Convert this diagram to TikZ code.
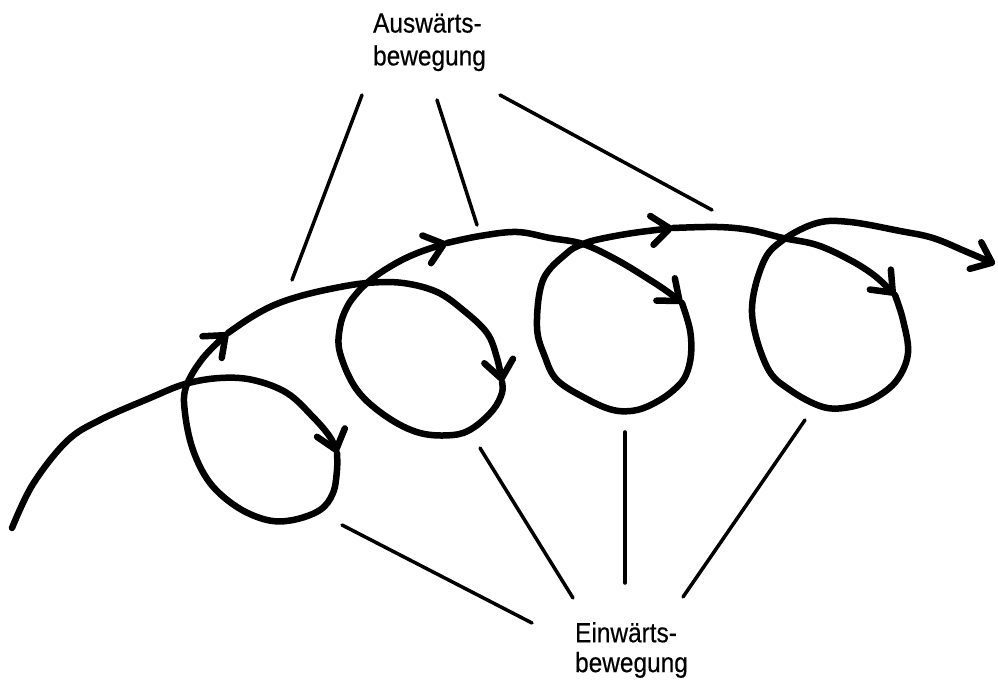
\documentclass[tikz,border=0pt]{standalone}
\usepackage{fontspec}
\setmainfont{Liberation Sans}
\newfontfamily\labelfont[FakeStretch=0.88, FakeBold=0.4]{Liberation Sans}
\usetikzlibrary{arrows.meta}

\begin{document}
\begin{tikzpicture}[x=0.02cm, y=-0.02cm,
  looppath/.style={line width=3.7pt, line cap=round, line join=round},
  loopseg/.style={looppath, -{Straight Barb[length=0.36cm, width=0.58cm, round]}},
  pointer/.style={line width=2pt, line cap=round},
  lbl/.style={inner sep=0pt, align=left, text=black}]

  % page frame
  \useasboundingbox (0,0) rectangle (998,685);

  % labels
  \node[lbl, font=\labelfont\fontsize{15.8pt}{18.7pt}\selectfont]
    (outward) at (429.5,42.3) {Auswärts-\\bewegung};
  \node[lbl, font=\labelfont\fontsize{15.8pt}{17pt}\selectfont]
    (inward) at (631.5,650) {Einwärts-\\bewegung};

  % the looping path, one piece per arrow
  \draw[loopseg] plot[smooth, tension=0.6] coordinates {
    (12,528) (33,484) (67,441) (100,420) (150,398) (185,384) (220,378)
    (253,380) (287,393) (313,417) (330,437) (337,453)};
  \draw[loopseg] plot[smooth, tension=0.6] coordinates {
    (337,453) (337,470) (333,493) (320,510) (293,520) (267,520) (237,507)
    (210,483) (193,450) (185,413) (186,387) (203,358) (228,333)};
  \draw[loopseg] plot[smooth, tension=0.6] coordinates {
    (228,333) (250,318) (272,306) (297,297) (330,289) (367,283)
    (403,283) (437,292) (463,310) (487,333) (497,358) (502,382)};
  \draw[loopseg] plot[smooth, tension=0.6] coordinates {
    (502,382) (502,393) (493,410) (473,428) (453,435) (420,433) (387,417)
    (357,390) (340,353) (340,327) (347,307) (357,293) (367,283) (380,273)
    (400,261) (420,252) (447,243)};
  \draw[loopseg] plot[smooth, tension=0.6] coordinates {
    (447,243) (480,236) (517,232) (550,238) (583,244) (617,260) (650,280)
    (668,292) (682,303)};
  \draw[loopseg] plot[smooth, tension=0.6] coordinates {
    (682,303) (690,330) (691,355) (686,375) (677,387) (660,400) (637,410)
    (613,410) (585,398) (557,380) (545,357) (537,327) (543,280) (567,253)
    (583,244) (600,239) (633,233) (673,228)};
  \draw[loopseg] plot[smooth, tension=0.6] coordinates {
    (673,228) (717,227) (750,230) (783,238) (817,245) (850,260) (875,276)
    (895,295)};
  \draw[loopseg] plot[smooth, tension=0.6] coordinates {
    (895,295) (903,320) (908,353) (897,380) (875,398) (850,407) (823,407)
    (790,390) (767,367) (752,313) (763,263) (783,240) (817,223) (850,222)
    (900,231) (933,238) (967,252) (995,264)};

  % pointer ends
  \coordinate (o1a) at (362,95);  \coordinate (o1b) at (292,280);
  \coordinate (o2a) at (437,100); \coordinate (o2b) at (477,225);
  \coordinate (o3a) at (500,95);  \coordinate (o3b) at (712,210);
  \coordinate (i1a) at (532,623); \coordinate (i1b) at (342,525);
  \coordinate (i2a) at (573,598); \coordinate (i2b) at (480,448);
  \coordinate (i3a) at (625,583); \coordinate (i3b) at (625,432);
  \coordinate (i4a) at (683,597); \coordinate (i4b) at (805,420);

  % pointers from the labels to the path
  \draw[pointer] (o1a) -- (o1b);
  \draw[pointer] (o2a) -- (o2b);
  \draw[pointer] (o3a) -- (o3b);
  \draw[pointer] (i1a) -- (i1b);
  \draw[pointer] (i2a) -- (i2b);
  \draw[pointer] (i3a) -- (i3b);
  \draw[pointer] (i4a) -- (i4b);
\end{tikzpicture}
\end{document}
